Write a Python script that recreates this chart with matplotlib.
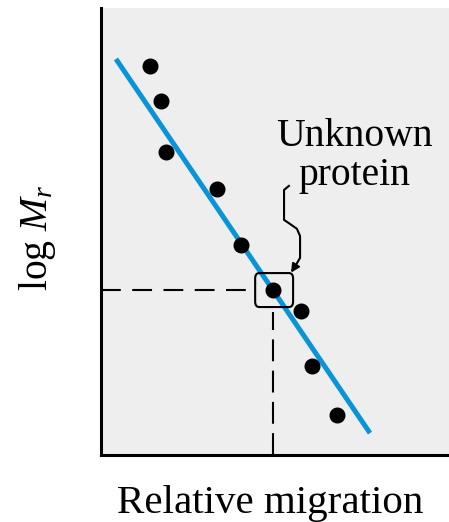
import matplotlib
matplotlib.use("Agg")
import matplotlib.pyplot as plt
from matplotlib.patches import FancyBboxPatch

plt.rcParams['font.family'] = ['Liberation Serif', 'DejaVu Serif']
plt.rcParams['mathtext.fontset'] = 'custom'
plt.rcParams['mathtext.rm'] = 'Liberation Serif'
plt.rcParams['mathtext.it'] = 'Liberation Serif:italic'

# standard proteins (relative migration, log Mr), arbitrary 0-1 units
std_migration = [0.141, 0.172, 0.187, 0.333, 0.402, 0.575, 0.606, 0.678]
std_logmr = [0.870, 0.792, 0.678, 0.595, 0.470, 0.322, 0.199, 0.089]

# unknown protein
unk_migration = 0.494
unk_logmr = 0.369

# fitted calibration line end points
fit_migration = [0.043, 0.773]
fit_logmr = [0.886, 0.049]

# curly pointer from label to the unknown
brace_x = [0.540, 0.526, 0.526, 0.543, 0.563, 0.572, 0.572, 0.560]
brace_y = [0.602, 0.593, 0.526, 0.517, 0.506, 0.490, 0.441, 0.425]

fig = plt.figure(figsize=(4.49, 5.22), dpi=100)
ax = fig.add_axes([101 / 449, 67 / 522, 348 / 449, 447 / 522])
ax.set_facecolor('#eeeeee')
ax.set_xlim(0, 1)
ax.set_ylim(0, 1)
for s in ['top', 'right']:
    ax.spines[s].set_visible(False)
for s in ['left', 'bottom']:
    ax.spines[s].set_linewidth(2.2)
ax.set_xticks([])
ax.set_yticks([])

ax.plot(fit_migration, fit_logmr, color='#0a94d8', lw=3.6, solid_capstyle='butt', zorder=2)
ax.plot(std_migration, std_logmr, 'o', color='black', ms=10.5, zorder=3)
ax.plot([unk_migration], [unk_logmr], 'o', color='black', ms=10.5, zorder=3)

# dashed read-off lines
ax.plot([0, unk_migration - 0.052], [unk_logmr, unk_logmr], color='black', lw=1.5,
        dashes=(9.5, 5.5), zorder=1)
ax.plot([unk_migration, unk_migration], [0, unk_logmr - 0.048], color='black', lw=1.5,
        dashes=(10.5, 4.5), zorder=1)

box = FancyBboxPatch((unk_migration - 0.051, unk_logmr - 0.038), 0.109, 0.076,
                     boxstyle='round,pad=0,rounding_size=0.012',
                     fill=False, ec='black', lw=1.5, zorder=4)
ax.add_patch(box)

ax.plot(brace_x, brace_y, color='black', lw=1.5, zorder=4, solid_joinstyle='round')
ax.annotate('', xy=(0.546, 0.408), xytext=(brace_x[-1], brace_y[-1]),
            arrowprops=dict(arrowstyle='-|>,head_length=0.5,head_width=0.25',
                            color='black', lw=1.5, shrinkA=0, shrinkB=0), zorder=4)

ax.text(0.727, 0.691, 'Unknown', ha='center', va='baseline', fontsize=28.5)
ax.text(0.727, 0.604, 'protein', ha='center', va='baseline', fontsize=28.5)

fig.text(270 / 449, 9 / 522, 'Relative migration', ha='center', va='baseline', fontsize=29.5)
fig.text(37 / 449, 284 / 522, 'log $M_r$', ha='center', va='center', rotation=90, fontsize=28.5)

fig.savefig('out.png', dpi=100)
